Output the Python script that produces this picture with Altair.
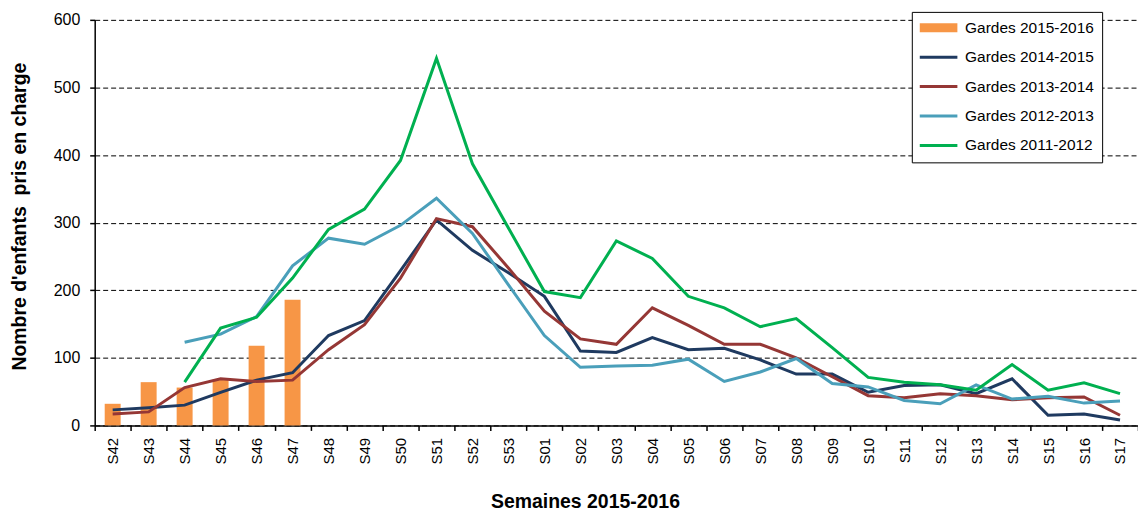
import altair as alt
import pandas as pd

weeks = ["S42", "S43", "S44", "S45", "S46", "S47", "S48", "S49", "S50", "S51", "S52", "S53",
         "S01", "S02", "S03", "S04", "S05", "S06", "S07", "S08", "S09", "S10", "S11", "S12",
         "S13", "S14", "S15", "S16", "S17"]

series_names = ["Gardes 2015-2016", "Gardes 2014-2015", "Gardes 2013-2014",
                "Gardes 2012-2013", "Gardes 2011-2012"]
series_colors = ["#F79646", "#1F3A60", "#953735", "#4A9FBA", "#00B050"]

gardes_2015_2016 = [32, 64, 56, 68, 118, 186]
gardes_2014_2015 = [23, 26, 30, 49, 67, 78, 133, 155, 229, 304, 259, 226,
                    191, 110, 108, 130, 112, 114, 97, 76, 76, 49, 59, 60, 47, 69, 15, 17, 8]
gardes_2013_2014 = [17, 20, 56, 69, 65, 67, 112, 149, 218, 306, 294, 233,
                    169, 128, 120, 174, 148, 120, 120, 100, 72, 44, 41, 47, 44, 38, 41, 42, 15]
gardes_2012_2013 = [None, None, 123, 135, 161, 236, 277, 268, 296, 336, 284, 208,
                    133, 86, 88, 89, 98, 65, 79, 99, 62, 57, 37, 32, 60, 39, 43, 33, 36]
gardes_2011_2012 = [None, None, 64, 144, 160, 218, 290, 320, 392, 543, 387, 292,
                    198, 189, 273, 247, 191, 174, 146, 158, 115, 71, 64, 60, 52, 90, 52, 63, 47]

bar_df = pd.DataFrame({"week": weeks[:len(gardes_2015_2016)], "value": gardes_2015_2016})

rows = []
for name, vals in zip(series_names[1:], [gardes_2014_2015, gardes_2013_2014,
                                         gardes_2012_2013, gardes_2011_2012]):
    for w, v in zip(weeks, vals):
        if v is not None:
            rows.append({"week": w, "value": v, "series": name})
line_df = pd.DataFrame(rows)

x_enc = alt.X(
    "week:N",
    sort=weeks,
    scale=alt.Scale(domain=weeks, paddingInner=0, paddingOuter=0),
    axis=alt.Axis(
        title="Semaines 2015-2016",
        titleFontSize=19.5,
        titleFontWeight="bold",
        titleColor="black",
        titleX=492,
        titleY=82,
        titleBaseline="alphabetic",
        labelAngle=270,
        labelFontSize=15,
        labelColor="black",
        labelPadding=7,
        tickBand="extent",
        tickSize=5,
        tickColor="black",
        tickWidth=1.5,
        domainColor="black",
        domainWidth=1.5,
        grid=False,
    ),
)

y_scale = alt.Scale(domain=[0, 600], nice=False)
y_axis = alt.Axis(
    title="Nombre d'enfants\u00a0 pris en charge",
    titleFontSize=19.5,
    titleFontWeight="bold",
    titleColor="black",
    titleAngle=270,
    titleX=-75,
    titleY=197,
    titleAlign="center",
    titleBaseline="middle",
    values=[0, 100, 200, 300, 400, 500, 600],
    labelFontSize=16,
    labelColor="black",
    labelPadding=10,
    tickSize=5,
    tickColor="black",
    tickWidth=1.5,
    domainColor="black",
    domainWidth=1.5,
    grid=True,
    gridColor="black",
    gridDash=[5, 3],
    gridWidth=1,
    gridOpacity=1,
)

bars = alt.Chart(bar_df).mark_bar(size=16, color="#F79646").encode(
    x=x_enc,
    y=alt.Y("value:Q", scale=y_scale, axis=y_axis),
)

lines = alt.Chart(line_df).mark_line(strokeWidth=3).encode(
    x=alt.X("week:N", sort=weeks),
    y=alt.Y("value:Q"),
    color=alt.Color(
        "series:N",
        scale=alt.Scale(domain=series_names, range=series_colors),
        legend=alt.Legend(
            title=None,
            orient="none",
            legendX=820,
            legendY=-8,
            fillColor="white",
            strokeColor="black",
            padding=8,
            labelFontSize=15.5,
            labelColor="black",
            labelOffset=30,
            symbolType="M-1,0H3",
            symbolSize=400,
            symbolStrokeWidth=alt.ExprRef(expr="datum.value === 'Gardes 2015-2016' ? 9 : 3"),
            clipHeight=16,
            rowPadding=12.5,
        ),
    ),
)

chart = alt.layer(bars, lines).properties(
    width=1047,
    height=407,
    autosize=alt.AutoSizeParams(type="none"),
    padding={"left": 87, "top": 11, "right": 0, "bottom": 87},
    background="white",
).configure(
    font="Liberation Sans",
).configure_view(
    stroke=None,
)

chart.save("out.html", embed_options={"renderer": "svg", "actions": False})
